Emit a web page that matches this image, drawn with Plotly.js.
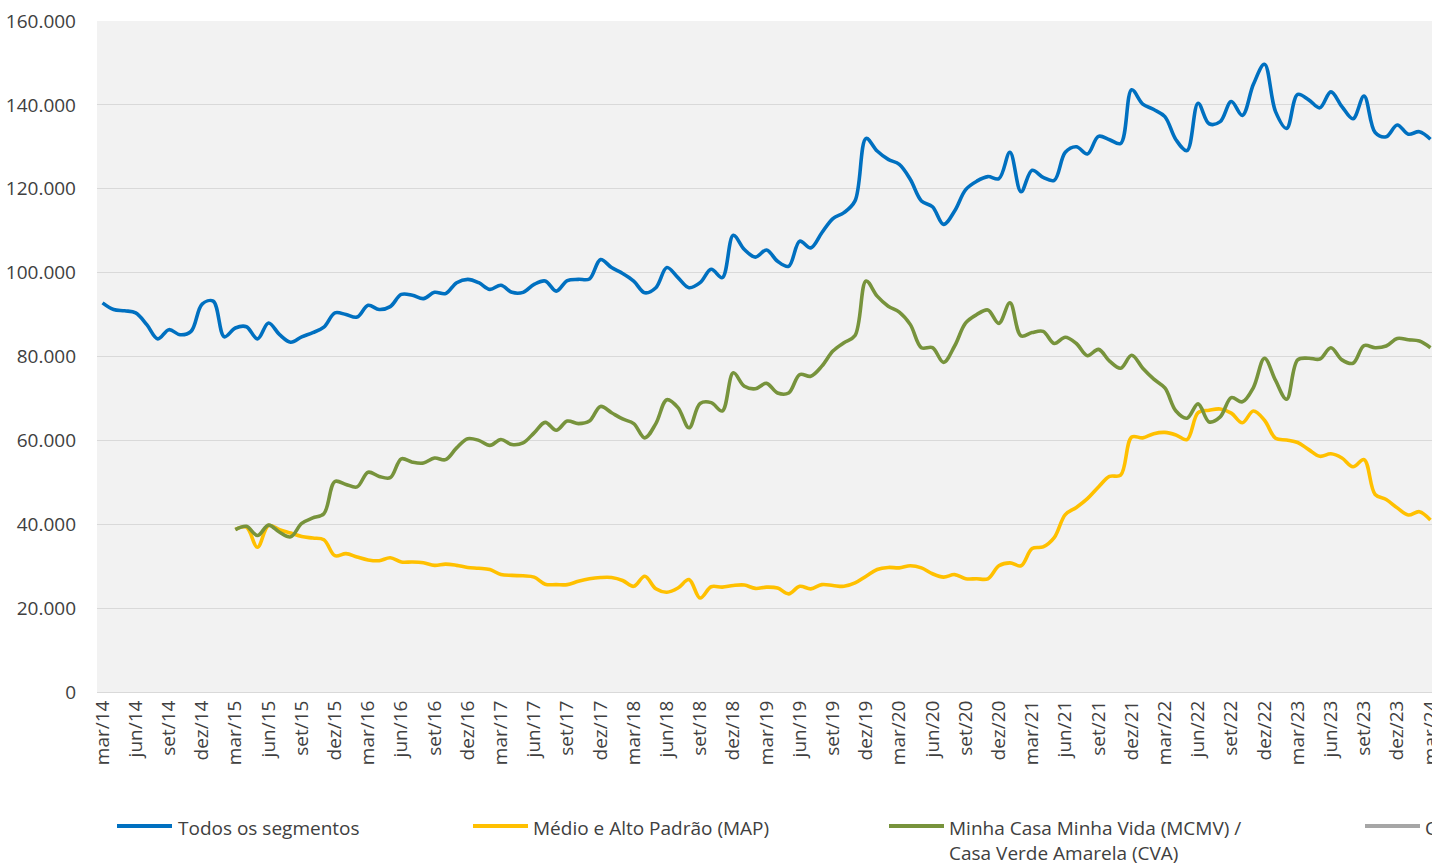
<!DOCTYPE html>
<html><head><meta charset="utf-8">
<script src="https://cdn.plot.ly/plotly-3.0.1.min.js"></script>
<style>html,body{margin:0;padding:0;overflow:hidden;background:#fff}</style>
</head><body><div id="chart" style="width:1460px;height:864px"></div>
<script>
// Month labels (mar/14 .. mar/24)
const monthNames = ['jan','fev','mar','abr','mai','jun','jul','ago','set','out','nov','dez'];
const months = [];
for (let i = 0; i < 121; i++) { const m = (2 + i) % 12; const y = 14 + Math.floor((2 + i) / 12); months.push(monthNames[m] + '/' + y); }
const tickLabels = months.filter((_, i) => i % 3 === 0);

const seriesNames = ['Todos os segmentos', 'Médio e Alto Padrão (MAP)', 'Minha Casa Minha Vida (MCMV) /<br>Casa Verde Amarela (CVA)', 'Outros'];

const todos = [92800,91200,90900,90400,87600,84200,86400,85200,86000,92500,93200,84700,86800,87100,84200,88000,85200,83400,84700,85700,
87000,90400,90000,89400,92200,91200,91900,94800,94600,93800,95300,95000,97600,98400,97600,96000,97000,95300,95300,97200,
98000,95600,98100,98400,98500,103100,101200,99800,98000,95200,96400,101200,98800,96400,97600,100800,98800,108900,105500,103700,
105400,102700,101500,107500,105900,109500,112900,114300,117100,132000,129000,127000,125800,122200,117100,115700,111500,114700,119800,121800,
122900,122400,128700,119300,124400,122700,122000,128700,130000,128300,132500,131700,130800,143600,140200,138900,137200,131700,129100,140400,
135500,136000,140800,137500,144900,149700,138400,134400,142500,141200,139300,143100,139600,136700,142100,133400,132400,135200,133000,133600,
131800];

const map = [null,null,null,null,null,null,null,null,null,null,null,null,38800,39300,34500,39700,38700,37900,37100,36700,
36300,32500,33000,32200,31500,31300,32000,31000,31000,30800,30200,30500,30200,29700,29500,29200,28000,27800,27700,27400,
25700,25600,25600,26400,27000,27300,27300,26600,25200,27600,24600,23800,24800,26800,22400,25100,25000,25400,25500,24700,
25000,24800,23400,25200,24600,25600,25400,25200,26000,27600,29200,29700,29600,30100,29600,28200,27400,28000,27000,27000,
27000,30100,30800,30100,34200,34600,36800,42300,44000,46100,48900,51400,51700,60800,60600,61600,61900,61300,60200,66600,
67200,67500,66500,64200,67000,64800,60500,60100,59500,57800,56200,56800,55800,53700,55400,47100,45900,43900,42200,43000,
41000];

const mcmv = [null,null,null,null,null,null,null,null,null,null,null,null,38700,39500,37300,39800,38100,37000,40200,41500,
42500,50200,49500,48900,52400,51400,51100,55600,54800,54600,55800,55400,58200,60400,60000,58800,60200,59000,59400,61800,
64300,62400,64600,64000,64600,68100,66600,65100,64000,60600,64000,69700,67800,63000,68800,69000,67000,76100,72900,72300,
73600,71300,71300,75700,75300,77700,81300,83300,85000,98000,94400,92000,90600,87600,82100,82100,78600,82500,88000,90000,
91100,87900,92800,84900,85700,86000,83100,84600,83100,80200,81700,78900,77200,80300,77200,74600,72500,67000,65300,68700,
64400,65600,70200,69200,72600,79600,74300,69800,79200,79600,79400,82100,79200,78400,82600,82100,82500,84300,84000,83700,
82100];

const colors = ['#0070C0', '#FFC000', '#77933C', '#A6A6A6'];

const W = 1460, H = 864, ML = 97, MR = 24, MT = 21, MB = 172;
const PW = W - ML - MR, PH = H - MT - MB;
const px = x => (x - ML) / PW;
const py = y => (H - MB - y) / PH;

const mk = (vals, c) => ({
  x: months, y: vals, type: 'scatter', mode: 'lines',
  line: {color: c, width: 3.6, shape: 'spline', smoothing: 1},
  connectgaps: false, showlegend: false, hoverinfo: 'skip'
});
const data = [mk(todos, colors[0]), mk(map, colors[1]), mk(mcmv, colors[2])];

const legendItems = [
  {x0: 117, x1: 172, tx: 176, c: colors[0], t: seriesNames[0]},
  {x0: 473, x1: 528, tx: 531, c: colors[1], t: seriesNames[1]},
  {x0: 889, x1: 944, tx: 947, c: colors[2], t: seriesNames[2]},
  {x0: 1365, x1: 1420, tx: 1423, c: colors[3], t: seriesNames[3]}
];
const LY = 826;
const shapes = legendItems.map(l => ({type: 'line', xref: 'paper', yref: 'paper', x0: px(l.x0), x1: px(l.x1), y0: py(LY), y1: py(LY), line: {color: l.c, width: 4}}));
const annotations = legendItems.map(l => ({xref: 'paper', yref: 'paper', x: px(l.tx), y: py(LY - 13), xanchor: 'left', yanchor: 'top', align: 'left', showarrow: false, text: l.t, font: {family: 'Open Sans, sans-serif', size: 19, color: '#404040'}}));

const layout = {
  width: W, height: H,
  margin: {l: ML, r: MR, t: MT, b: MB, pad: 0},
  paper_bgcolor: '#ffffff', plot_bgcolor: '#f2f2f2',
  separators: ',.',
  font: {family: 'Open Sans, sans-serif', size: 19, color: '#404040'},
  xaxis: {type: 'category', range: [-0.5, 120.5], tickmode: 'array', tickvals: tickLabels, ticktext: tickLabels,
    tickangle: -90, showgrid: false, zeroline: false, showline: true, linecolor: '#d9d9d9', linewidth: 1, ticks: '',
    tickfont: {size: 19, color: '#404040'}, fixedrange: true},
  yaxis: {range: [0, 160000], dtick: 20000, tickformat: ',d', showgrid: true, gridcolor: '#d9d9d9', gridwidth: 1,
    zeroline: false, showline: false, ticks: '', ticklabelstandoff: 20, tickfont: {size: 19, color: '#404040'}, fixedrange: true},
  shapes: shapes, annotations: annotations, showlegend: false
};
Plotly.newPlot('chart', data, layout, {staticPlot: true, displayModeBar: false});
</script></body></html>
